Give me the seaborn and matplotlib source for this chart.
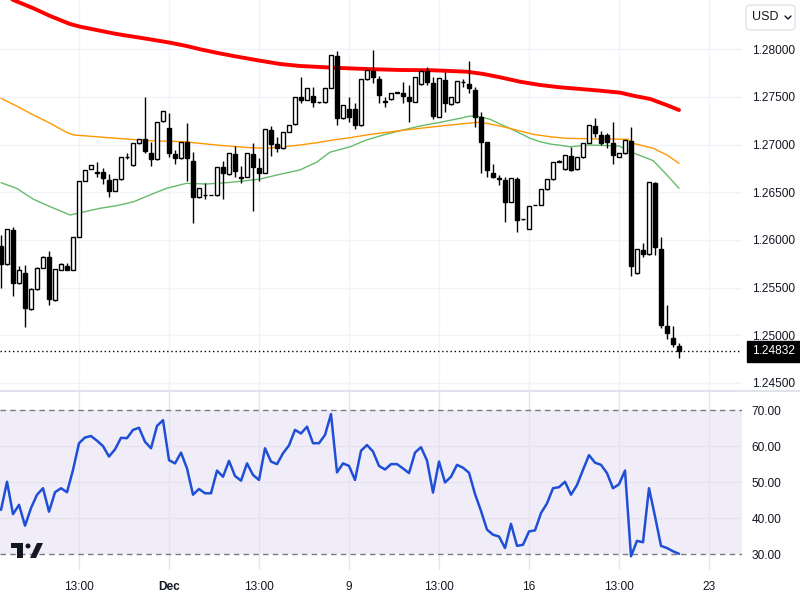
import matplotlib
matplotlib.use("Agg")
import matplotlib.pyplot as plt
import seaborn as sns
import numpy as np
import pandas as pd
from matplotlib.patches import FancyBboxPatch, Rectangle, Ellipse, Polygon
from matplotlib.lines import Line2D

# 4h candles
opens = [1.25937, 1.25745, 1.26105, 1.25545, 1.25650, 1.25272, 1.25482, 1.25710, 1.25818, 1.25370,
         1.25685, 1.25731, 1.25685, 1.26035, 1.26622, 1.26741, 1.26713, 1.26710, 1.26629, 1.26514,
         1.26636, 1.26867, 1.26783, 1.27014, 1.27056, 1.26909, 1.26846, 1.27245, 1.27175, 1.26899,
         1.26857, 1.27028, 1.26832, 1.26447, 1.26472, 1.26472, 1.26468, 1.26762, 1.26689, 1.26902,
         1.26664, 1.26664, 1.26906, 1.26759, 1.26706, 1.27154, 1.27003, 1.26961, 1.27136, 1.27213,
         1.27504, 1.27469, 1.27514, 1.27447, 1.27444, 1.27591, 1.27930, 1.27276, 1.27371, 1.27371,
         1.27206, 1.27685, 1.27773, 1.27685, 1.27454, 1.27476, 1.27549, 1.27538, 1.27497, 1.27451,
         1.27633, 1.27773, 1.27643, 1.27294, 1.27678, 1.27423, 1.27444, 1.27661, 1.27633, 1.27573,
         1.27294, 1.27024, 1.26706, 1.26654, 1.26629, 1.26402, 1.26636, 1.26217, 1.26112, 1.26367,
         1.26367, 1.26531, 1.26636, 1.26822, 1.26741, 1.26881, 1.26741, 1.26867, 1.27021, 1.27196,
         1.27101, 1.27101, 1.27014, 1.26874, 1.26909, 1.27042, 1.25650, 1.25895, 1.25849, 1.26594,
         1.25905, 1.25101, 1.24968, 1.24888]
highs = [1.26052, 1.26119, 1.26140, 1.25731, 1.25734, 1.25493, 1.25720, 1.25832, 1.25884, 1.25692,
         1.25755, 1.25755, 1.26035, 1.26622, 1.26734, 1.26790, 1.26822, 1.26759, 1.26689, 1.26636,
         1.26874, 1.26909, 1.27014, 1.27063, 1.27497, 1.27028, 1.27234, 1.27357, 1.27336, 1.26944,
         1.27031, 1.27224, 1.26920, 1.26542, 1.26594, 1.26475, 1.26769, 1.26829, 1.26909, 1.26986,
         1.26780, 1.26909, 1.27014, 1.26857, 1.27161, 1.27196, 1.27077, 1.27136, 1.27206, 1.27504,
         1.27706, 1.27598, 1.27608, 1.27451, 1.27591, 1.27941, 1.27983, 1.27420, 1.27497, 1.27441,
         1.27685, 1.27783, 1.27993, 1.27724, 1.27497, 1.27546, 1.27556, 1.27654, 1.27626, 1.27713,
         1.27776, 1.27818, 1.27713, 1.27696, 1.27759, 1.27504, 1.27671, 1.27685, 1.27878, 1.27608,
         1.27339, 1.27031, 1.26797, 1.26682, 1.26657, 1.26654, 1.26657, 1.26225, 1.26356, 1.26370,
         1.26531, 1.26636, 1.26822, 1.26836, 1.26888, 1.26979, 1.26874, 1.27021, 1.27210, 1.27276,
         1.27147, 1.27119, 1.27241, 1.26912, 1.27049, 1.27182, 1.25902, 1.25972, 1.26605, 1.26605,
         1.26028, 1.25318, 1.25098, 1.24916]
lows = [1.25493, 1.25740, 1.25412, 1.25538, 1.25084, 1.25265, 1.25475, 1.25705, 1.25318, 1.25365,
        1.25680, 1.25685, 1.25680, 1.26030, 1.26620, 1.26741, 1.26657, 1.26587, 1.26454, 1.26510,
        1.26630, 1.26850, 1.26780, 1.27010, 1.26909, 1.26776, 1.26840, 1.27240, 1.26867, 1.26797,
        1.26850, 1.26615, 1.26175, 1.26440, 1.26426, 1.26468, 1.26465, 1.26433, 1.26685, 1.26664,
        1.26601, 1.26660, 1.26308, 1.26615, 1.26700, 1.26881, 1.26927, 1.26955, 1.27130, 1.27210,
        1.27434, 1.27465, 1.27399, 1.27441, 1.27440, 1.27590, 1.27206, 1.27270, 1.27241, 1.27164,
        1.27200, 1.27680, 1.27643, 1.27434, 1.27399, 1.27470, 1.27542, 1.27441, 1.27241, 1.27445,
        1.27630, 1.27626, 1.27266, 1.27290, 1.27346, 1.27420, 1.27440, 1.27608, 1.27545, 1.27189,
        1.26706, 1.26664, 1.26647, 1.26577, 1.26192, 1.26400, 1.26087, 1.26210, 1.26110, 1.26362,
        1.26362, 1.26528, 1.26632, 1.26818, 1.26738, 1.26727, 1.26738, 1.26864, 1.27018, 1.27084,
        1.26997, 1.26962, 1.26797, 1.26870, 1.26905, 1.25622, 1.25645, 1.25825, 1.25845, 1.25842,
        1.25073, 1.24958, 1.24881, 1.24758]
closes = [1.25745, 1.26112, 1.25552, 1.25685, 1.25283, 1.25482, 1.25710, 1.25825, 1.25384, 1.25692,
          1.25745, 1.25685, 1.26035, 1.26622, 1.26734, 1.26790, 1.26703, 1.26647, 1.26517, 1.26636,
          1.26874, 1.26874, 1.27014, 1.27063, 1.26937, 1.26853, 1.27234, 1.27357, 1.26916, 1.26860,
          1.27031, 1.26857, 1.26447, 1.26542, 1.26468, 1.26470, 1.26769, 1.26706, 1.26909, 1.26727,
          1.26647, 1.26909, 1.26769, 1.26706, 1.27161, 1.27003, 1.26968, 1.27136, 1.27206, 1.27504,
          1.27469, 1.27598, 1.27444, 1.27444, 1.27591, 1.27941, 1.27283, 1.27420, 1.27294, 1.27206,
          1.27685, 1.27783, 1.27713, 1.27521, 1.27447, 1.27538, 1.27545, 1.27514, 1.27462, 1.27713,
          1.27776, 1.27661, 1.27301, 1.27696, 1.27441, 1.27504, 1.27671, 1.27654, 1.27591, 1.27294,
          1.27029, 1.26734, 1.26664, 1.26643, 1.26402, 1.26647, 1.26210, 1.26215, 1.26356, 1.26367,
          1.26531, 1.26636, 1.26822, 1.26829, 1.26888, 1.26734, 1.26867, 1.27014, 1.27203, 1.27126,
          1.27021, 1.27031, 1.26888, 1.26909, 1.27049, 1.25727, 1.25902, 1.25856, 1.26605, 1.25930,
          1.25108, 1.25021, 1.24905, 1.24832]

rsi_values = [42.3, 50.1, 41.1, 43.7, 37.9, 42.8, 46.5, 48.3, 41.8, 47.2,
              48.3, 47.2, 53.4, 60.8, 62.4, 62.8, 61.5, 60.0, 57.1, 59.1,
              62.3, 62.2, 64.5, 65.1, 61.2, 59.4, 65.6, 67.2, 56.1, 55.2,
              58.2, 53.8, 46.5, 48.1, 46.9, 46.9, 53.2, 51.5, 55.9, 51.7,
              50.4, 55.2, 52.0, 50.6, 59.4, 55.7, 55.0, 58.0, 60.2, 64.5,
              63.5, 65.4, 60.8, 60.8, 63.1, 68.9, 52.7, 55.2, 54.5, 50.6,
              58.7, 60.3, 58.5, 54.5, 53.5, 55.0, 55.0, 53.8, 52.5, 58.2,
              59.7, 56.0, 47.1, 55.7, 49.9, 51.5, 54.8, 54.0, 52.6, 46.7,
              42.0, 36.8, 35.4, 34.9, 31.7, 38.4, 32.3, 32.6, 36.3, 36.6,
              41.4, 44.1, 48.3, 48.6, 50.1, 46.5, 49.2, 53.4, 57.5, 55.4,
              54.8, 52.5, 48.3, 49.4, 53.2, 29.4, 33.7, 33.3, 48.3, 40.5,
              32.3, 31.7, 30.8, 30.1]

# moving averages (candle index, price)
ma_red_idx = [0, 2.05, 5.4, 8.2, 11.5, 13.2, 16.5, 19.3, 22.1, 24.8, 28.2, 30.9, 33.2, 35.9, 38.7,
              43.2, 46.5, 49.8, 55.4, 60.9, 66.5, 72, 77.6, 80.4, 83.2, 86.5, 89.8, 93.2, 96.5,
              99.8, 103.2, 105.4, 108.2, 110.9, 113]
ma_red_val = [1.28600, 1.28517, 1.28430, 1.28349, 1.28265, 1.28237, 1.28195, 1.28160, 1.28132, 1.28105,
              1.28069, 1.28035, 1.28000, 1.27964, 1.27930, 1.27880, 1.27846, 1.27825, 1.27807, 1.27793,
              1.27783, 1.27780, 1.27765, 1.27741, 1.27706, 1.27660, 1.27626, 1.27601, 1.27584, 1.27566,
              1.27545, 1.27513, 1.27479, 1.27416, 1.27363]
ma_orange_idx = [0, 2.6, 5.4, 8.2, 10.9, 12.1, 14.3, 19.3, 24.8, 30.4, 35.9, 41.5, 44.3, 47.1, 49.8,
                 52.6, 55.4, 58.2, 60.9, 63.7, 66.5, 69.8, 73.2, 76.5, 79.3, 80.9, 83.2, 84.8, 86.5,
                 88.7, 91.5, 94.3, 100.5, 104.5, 105.3, 107.7, 108.7, 111, 113]
ma_orange_val = [1.27486, 1.27405, 1.27311, 1.27224, 1.27129, 1.27101, 1.27091, 1.27066, 1.27041, 1.27031,
                 1.26996, 1.26968, 1.26962, 1.26978, 1.26996, 1.27020, 1.27049, 1.27073, 1.27101, 1.27125,
                 1.27146, 1.27171, 1.27195, 1.27216, 1.27234, 1.27224, 1.27195, 1.27171, 1.27143, 1.27108,
                 1.27083, 1.27066, 1.27059, 1.27056, 1.27014, 1.26978, 1.26962, 1.26891, 1.26804]
ma_green_idx = [0, 2.6, 5.4, 8.2, 11.5, 13.2, 16.5, 19.3, 22.1, 24.8, 27.6, 30.9, 34.3, 37.6, 40.4,
                43.2, 46.5, 49.8, 52.6, 54.8, 58.2, 60.9, 63.7, 66.5, 69.8, 73.2, 76.5, 78.2, 79.8,
                81.5, 83.2, 84.8, 86.5, 88.2, 89.8, 91.5, 93.2, 94.8, 98, 103, 105.3, 107.7, 108.7,
                111, 113]
ma_green_val = [1.26601, 1.26542, 1.26427, 1.26349, 1.26262, 1.26286, 1.26332, 1.26360, 1.26401, 1.26472,
                1.26542, 1.26594, 1.26587, 1.26601, 1.26619, 1.26640, 1.26689, 1.26734, 1.26815, 1.26920,
                1.26978, 1.27049, 1.27101, 1.27146, 1.27195, 1.27234, 1.27276, 1.27300, 1.27293, 1.27266,
                1.27216, 1.27171, 1.27119, 1.27066, 1.27031, 1.27007, 1.26993, 1.26978, 1.26996, 1.26986,
                1.26915, 1.26857, 1.26832, 1.26681, 1.26542]

tick_pos = [13, 28, 43, 58, 73, 88, 103, 118]
tick_labels = ['13:00', 'Dec', '13:00', '9', '13:00', '16', '13:00', '23']
price_ticks = [1.245, 1.250, 1.255, 1.260, 1.265, 1.270, 1.275, 1.280]
rsi_ticks = [30, 40, 50, 60, 70]
last_price = 1.24832

sns.set_theme(style='white')
plt.rcParams['font.family'] = ['Liberation Sans', 'DejaVu Sans']

df = pd.DataFrame({'open': opens, 'high': highs, 'low': lows, 'close': closes})
df['idx'] = np.arange(len(df))
df['rsi'] = rsi_values

fig = plt.figure(figsize=(8, 6), dpi=100)
W, H = 800, 600
ax = fig.add_axes([0, 1 - 391 / H, 742 / W, 391 / H])
ax2 = fig.add_axes([0, 1 - 570 / H, 742 / W, (570 - 391) / H], sharex=ax)

grid_c = '#f0f3fa'
text_c = '#131722'

# price pane
for p in price_ticks:
    ax.axhline(p, color=grid_c, lw=1, zorder=0)
for t in tick_pos:
    ax.axvline(t, color=grid_c, lw=1, zorder=0)

sns.lineplot(x=ma_green_idx, y=ma_green_val, ax=ax, color='#66bb6a', lw=1, zorder=2)
sns.lineplot(x=ma_orange_idx, y=ma_orange_val, ax=ax, color='#ff9800', lw=1, zorder=2)
sns.lineplot(x=ma_red_idx, y=ma_red_val, ax=ax, color='#ff0000', lw=2.8, zorder=2)

up = df['close'] >= df['open']
body_h = (df['close'] - df['open']).abs().clip(lower=0.00002)
body_b = df[['open', 'close']].min(axis=1)
ax.vlines(df['idx'], df['low'], df['high'], color='black', lw=1, zorder=3)
ax.bar(df['idx'][up], body_h[up], bottom=body_b[up], width=0.62,
       color='white', edgecolor='black', linewidth=1, zorder=4)
ax.bar(df['idx'][~up], body_h[~up], bottom=body_b[~up], width=0.62,
       color='black', edgecolor='black', linewidth=1, zorder=4)

ax.axhline(last_price, color='black', lw=1, ls=(0, (1, 2)), zorder=5)
ax.text(1 + 10 / 742, last_price, f'{last_price:.5f}', transform=ax.get_yaxis_transform(),
        color='white', va='center', ha='left', fontsize=8.6, clip_on=False,
        bbox=dict(boxstyle='square,pad=0.4', fc='black', ec='black'))

ax.set_xlim(-0.17, 123.5)
ax.set_ylim(1.24416, 1.28517)
ax.yaxis.tick_right()
ax.set_yticks(price_ticks)
ax.set_yticklabels([f'{p:.5f}' for p in price_ticks])
ax.tick_params(axis='y', length=0, pad=7, labelsize=8.6, colors=text_c)
ax.tick_params(axis='x', bottom=False, labelbottom=False)
ax.set_xlabel('')
ax.set_ylabel('')

# RSI pane
ax2.axhspan(30, 70, color='#7e57c2', alpha=0.1, lw=0, zorder=0)
for r in [40, 50, 60]:
    ax2.axhline(r, color='#e6e3ee', lw=1, zorder=1)
for t in tick_pos:
    ax2.axvline(t, color='#e6e3ee', lw=1, zorder=1)
ax2.axhline(70, color='#787b86', lw=1, ls=(0, (4, 3)), zorder=2)
ax2.axhline(30, color='#787b86', lw=1, ls=(0, (4, 3)), zorder=2)
sns.lineplot(data=df, x='idx', y='rsi', ax=ax2, color='#1f4fd6', lw=1.8, zorder=3)

ax2.set_ylim(25.6, 75.3)
ax2.yaxis.tick_right()
ax2.set_yticks(rsi_ticks)
ax2.set_yticklabels([f'{r:.2f}' for r in rsi_ticks])
ax2.set_xticks(tick_pos)
ax2.set_xticklabels(tick_labels)
for lbl in ax2.get_xticklabels():
    if lbl.get_text() == 'Dec':
        lbl.set_fontweight('bold')
ax2.tick_params(axis='y', length=0, pad=7, labelsize=8.6, colors=text_c)
ax2.tick_params(axis='x', length=0, pad=8, labelsize=8.6, colors=text_c)
ax2.set_xlabel('')
ax2.set_ylabel('')

for a in (ax, ax2):
    for s in a.spines.values():
        s.set_visible(False)
    a.set_facecolor('white')

# pane separator
fig.add_artist(Line2D([0, 1], [1 - 391 / H, 1 - 391 / H], transform=fig.transFigure,
                      color='#e0e3eb', lw=1.5))

# currency box
def fx(x):
    return x / W

def fy(y):
    return 1 - y / H

fig.add_artist(FancyBboxPatch((fx(746), fy(30)), fx(49), 25 / H, transform=fig.transFigure,
                              boxstyle='round,pad=0,rounding_size=0.006',
                              fc='white', ec='#e0e3eb', lw=1))
fig.text(fx(752), fy(17.5), 'USD', va='center', ha='left', fontsize=9, color=text_c)
fig.add_artist(Line2D([fx(785), fx(788), fx(791)], [fy(16), fy(19), fy(16)],
                      transform=fig.transFigure, color=text_c, lw=1))

# small logo in the lower-left corner
fig.add_artist(Rectangle((fx(11), fy(548)), 12 / W, 5 / H, transform=fig.transFigure, fc='#131722', ec='none'))
fig.add_artist(Rectangle((fx(17), fy(558)), 6 / W, 15 / H, transform=fig.transFigure, fc='#131722', ec='none'))
fig.add_artist(Ellipse((fx(28), fy(546)), 5 / W, 5 / H, transform=fig.transFigure, fc='#131722', ec='none'))
fig.add_artist(Polygon([(fx(30), fy(558)), (fx(36), fy(558)), (fx(43), fy(543)), (fx(37), fy(543))],
                       closed=True, transform=fig.transFigure, fc='#131722', ec='none'))

fig.savefig('out.png', dpi=100, facecolor='white')
